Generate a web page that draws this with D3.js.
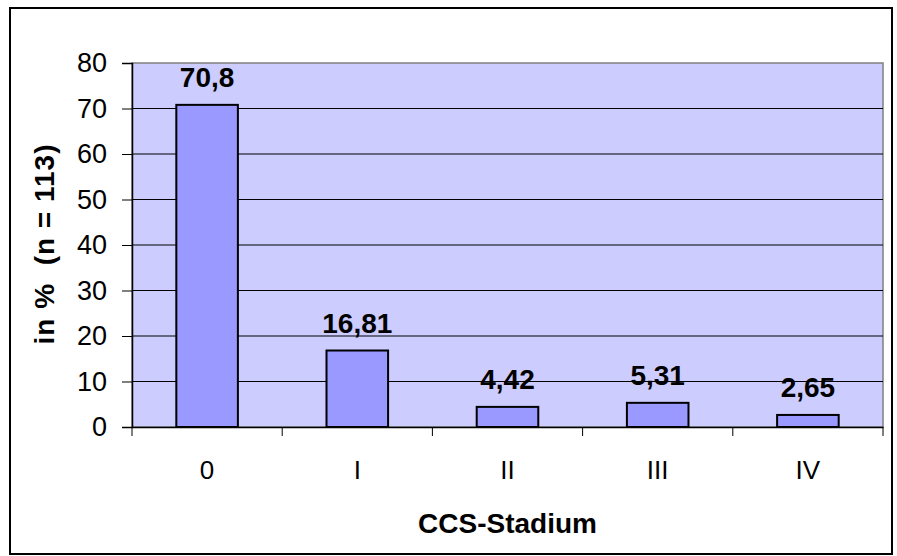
<!DOCTYPE html>
<html>
<head>
<meta charset="utf-8">
<script src="https://cdn.jsdelivr.net/npm/d3@7"></script>
<style>
  body { margin: 0; background: #fff; }
  text { font-family: "Liberation Sans", Arial, sans-serif; }
</style>
</head>
<body>
<script>
// data
const categories = ["0", "I", "II", "III", "IV"];
const values = [70.8, 16.81, 4.42, 5.31, 2.65];
const valueLabels = ["70,8", "16,81", "4,42", "5,31", "2,65"];
const yTicks = [0, 10, 20, 30, 40, 50, 60, 70, 80];

const W = 897, H = 556;
const margin = { top: 63, right: 14, bottom: 129, left: 132 };
const width = W - margin.left - margin.right;
const height = H - margin.top - margin.bottom;

const svg = d3.select("body").append("svg")
    .attr("width", W)
    .attr("height", H);

// outer frame
svg.append("rect")
    .attr("x", 10).attr("y", 8)
    .attr("width", 882).attr("height", 546)
    .attr("fill", "#fff")
    .attr("stroke", "#000")
    .attr("stroke-width", 2);

const g = svg.append("g")
    .attr("transform", "translate(" + margin.left + "," + margin.top + ")");

const x = d3.scaleBand().domain(categories).range([0, width]).paddingInner(0.59).paddingOuter(0.295);
const xCat = d3.scaleBand().domain(categories).range([0, width]);
const y = d3.scaleLinear().domain([0, 80]).range([height, 0]);

// plot background
g.append("rect")
    .attr("width", width).attr("height", height)
    .attr("fill", "#CCCCFF")
    .attr("stroke", "#808080")
    .attr("stroke-width", 1.5);

// gridlines
g.selectAll(".grid").data(yTicks.filter(d => d > 0 && d < 80))
    .enter().append("line")
    .attr("x1", 0).attr("x2", width)
    .attr("y1", d => y(d)).attr("y2", d => y(d))
    .attr("stroke", "#000").attr("stroke-width", 1);

// bars
g.selectAll(".bar").data(values)
    .enter().append("rect")
    .attr("x", (d, i) => x(categories[i]))
    .attr("y", d => y(d))
    .attr("width", x.bandwidth())
    .attr("height", d => height - y(d))
    .attr("fill", "#9999FF")
    .attr("stroke", "#000")
    .attr("stroke-width", 2);

// value labels
g.selectAll(".lbl").data(values)
    .enter().append("text")
    .attr("x", (d, i) => x(categories[i]) + x.bandwidth() / 2)
    .attr("y", d => y(d) - 18)
    .attr("text-anchor", "middle")
    .attr("font-weight", "bold")
    .attr("font-size", 28)
    .text((d, i) => valueLabels[i]);

// y axis
const yAxis = d3.axisLeft(y).tickValues(yTicks).tickSize(10).tickPadding(15);
const ya = g.append("g").call(yAxis);
ya.select(".domain").attr("stroke", "#000").attr("stroke-width", 1.5);
ya.selectAll("line").attr("stroke", "#000");
ya.selectAll("text").attr("font-size", 27).attr("fill", "#000")
    .attr("font-family", "Liberation Sans, Arial, sans-serif");

// x axis
const xAxis = d3.axisBottom(xCat).tickSize(0).tickPadding(34);
const xa = g.append("g").attr("transform", "translate(0," + height + ")").call(xAxis);
xa.select(".domain").attr("stroke", "#000").attr("stroke-width", 1.5);
xa.selectAll("text").attr("font-size", 26).attr("fill", "#000")
    .attr("font-family", "Liberation Sans, Arial, sans-serif");
// category boundary ticks
xa.selectAll(".sep").data(d3.range(categories.length + 1))
    .enter().append("line")
    .attr("x1", i => i * xCat.step()).attr("x2", i => i * xCat.step())
    .attr("y1", 0).attr("y2", 9)
    .attr("stroke", "#000");

// axis titles
svg.append("text")
    .attr("x", margin.left + width / 2)
    .attr("y", 533)
    .attr("text-anchor", "middle")
    .attr("font-weight", "bold")
    .attr("font-size", 28)
    .text("CCS-Stadium");

svg.append("text")
    .attr("transform", "translate(54,244) rotate(-90)")
    .attr("text-anchor", "middle")
    .attr("font-weight", "bold")
    .attr("font-size", 28)
    .attr("letter-spacing", 1)
    .attr("xml:space", "preserve")
    .style("white-space", "pre")
    .text("in %  (n = 113)");
</script>
</body>
</html>
